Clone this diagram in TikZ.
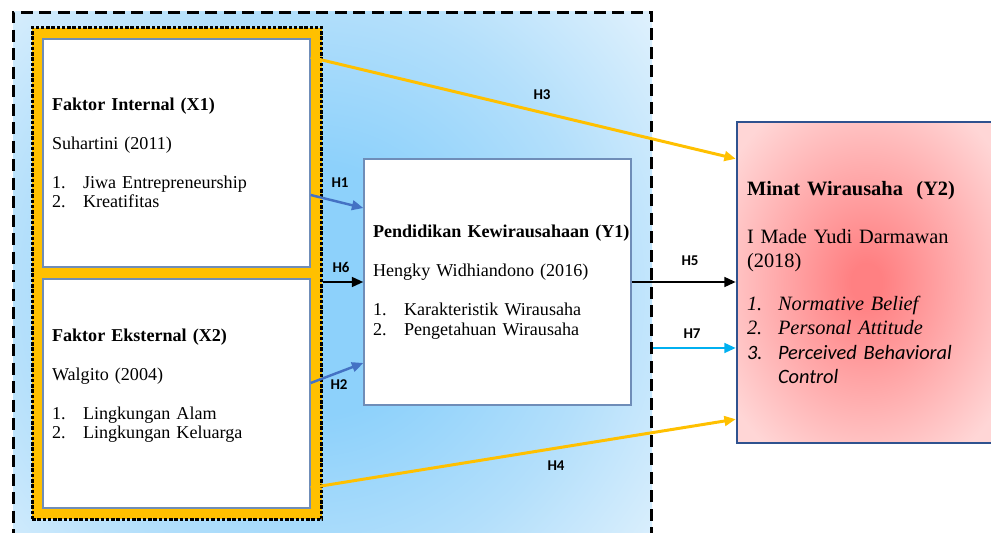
\documentclass[tikz,border=0pt]{standalone}
\usepackage{fontspec}
\setmainfont{Liberation Serif}
\newfontfamily\calfont{Carlito}
\usetikzlibrary{arrows.meta}
\definecolor{frameorange}{HTML}{FFC000}
\definecolor{linkblue}{HTML}{4472C4}
\definecolor{linkcyan}{HTML}{00B0F0}
\definecolor{boxedge}{HTML}{6F8DB8}
\definecolor{goaledge}{HTML}{2F528F}
\definecolor{skycore}{HTML}{8DD1FB}
\definecolor{skymid}{HTML}{B3DFFB}
\definecolor{skyedge}{HTML}{E2F2FD}
\definecolor{rosecore}{HTML}{FF8082}
\definecolor{roseedge}{HTML}{FFD6D6}
\pgfdeclareradialshading{skyglow}{\pgfpoint{0bp}{0bp}}{color(0bp)=(skycore); color(7bp)=(skycore); color(16bp)=(skymid); color(25bp)=(skyedge); color(50bp)=(skyedge)}
\pgfdeclareradialshading{roseglow}{\pgfpoint{0bp}{0bp}}{color(0bp)=(rosecore); color(3bp)=(rosecore); color(32bp)=(roseedge); color(50bp)=(roseedge)}
\newcommand{\varfont}{\fontsize{10.3}{11.1}\selectfont}
\newcommand{\goalfont}{\fontsize{11.6}{13.7}\selectfont}
\newcommand{\hypfont}{\calfont\bfseries\fontsize{8.5}{10}\selectfont}
\newcommand{\itemno}[1]{\makebox[0.62cm][l]{#1}}

\begin{document}
\begin{tikzpicture}[x=0.02cm, y=-0.02cm,
  varbox/.style={draw=boxedge, line width=0.8pt, fill=white, align=left,
    inner xsep=0.18cm, inner ysep=0pt, font=\varfont},
  link/.style={line width=1.4pt, -{Triangle[length=6.5pt,width=5.5pt]}},
  hyp/.style={font=\hypfont, inner sep=0pt}]
  \useasboundingbox (0,0) rectangle (991,533);
  \clip (0,0) rectangle (991,533);
  % background
  \begin{scope}
    \clip (13,12) rectangle (652,548);
    \shade[shading=skyglow] (310,290) circle (9cm);
  \end{scope}
  \node[draw, line width=1.7pt, dash pattern=on 0.24cm off 0.13cm,
    minimum width=12.78cm, minimum height=10.72cm] (region) at (332.5,280) {};
  \node[draw, fill=frameorange, line width=1.7pt, dash pattern=on 2pt off 1pt,
    minimum width=5.8cm, minimum height=9.84cm] (frame) at (177,273.5) {};
  % nodes
  \node[varbox, text width=4.98cm, minimum height=4.56cm] (x1) at (176.5,153)
    {\textbf{Faktor Internal (X1)}\\[11.1pt]
     Suhartini (2011)\\[11.1pt]
     \itemno{1.}Jiwa Entrepreneurship\\
     \itemno{2.}Kreatifitas};
  \node[varbox, text width=4.98cm, minimum height=4.58cm] (x2) at (176.5,393.5)
    {\textbf{Faktor Eksternal (X2)}\\[11.1pt]
     Walgito (2004)\\[11.1pt]
     \itemno{1.}Lingkungan Alam\\
     \itemno{2.}Lingkungan Keluarga\\[0pt]\mbox{}};
  \node[varbox, text width=4.98cm, minimum height=4.92cm] (y1) at (497.5,282)
    {\mbox{\textbf{Pendidikan Kewirausahaan (Y1)}}\\[11.1pt]
     Hengky Widhiandono (2016)\\[11.1pt]
     \itemno{1.}Karakteristik Wirausaha\\
     \itemno{2.}Pengetahuan Wirausaha};
  \node[draw=goaledge, line width=1.4pt, shade, shading=roseglow, align=left,
    inner xsep=0.2cm, inner ysep=0pt, text width=4.78cm, minimum height=6.42cm,
    font=\goalfont] (y2) at (866.5,282.5)
    {\textbf{Minat Wirausaha~ (Y2)}\\[13.6pt]
     I Made Yudi Darmawan\\
     (2018)\\[10.8pt]
     \itemno{\textit{1.}}\textit{Normative Belief}\\
     \itemno{\textit{2.}}\textit{Personal Attitude}\\
     {\calfont\itshape\itemno{3.}Perceived Behavioral}\\
     {\calfont\itshape\itemno{}Control}};
  % connectors
  \draw[link, frameorange, line width=1.7pt] ([yshift=-0.38cm]x1.north east) -- ([yshift=-0.76cm]y2.north west);
  \draw[link, linkblue] ([yshift=-0.84cm]x1.east) -- ([yshift=1.48cm]y1.west);
  \draw[link] (y1.west -| frame.east) -- (y1.west);
  \draw[link, linkblue] ([yshift=0.21cm]x2.east) -- ([yshift=-1.62cm]y1.west);
  \draw[link] (y1.east) -- (y1.east -| y2.west);
  \coordinate (h7tip) at ([yshift=-1.31cm]y2.west);
  \draw[link, linkcyan] (h7tip -| region.east) -- (h7tip);
  \draw[link, frameorange, line width=1.7pt] ([yshift=0.42cm]x2.south east) -- ([yshift=0.5cm]y2.south west);
  % labels
  \node[hyp] (h3) at (542,95) {H3};
  \node[hyp] (h1) at (340,183) {H1};
  \node[hyp] (h6) at (341,267) {H6};
  \node[hyp] (h2) at (339,385) {H2};
  \node[hyp] (h5) at (690,261) {H5};
  \node[hyp] (h7) at (692,334) {H7};
  \node[hyp] (h4) at (556,466) {H4};
\end{tikzpicture}
\end{document}
